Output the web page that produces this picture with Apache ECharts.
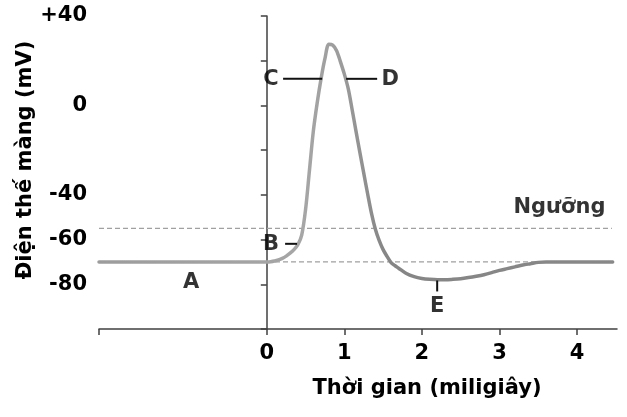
<!DOCTYPE html>
<html>
<head>
<meta charset="utf-8">
<script src="https://cdn.jsdelivr.net/npm/echarts@6/dist/echarts.min.js"></script>
<style>
html,body{margin:0;padding:0;background:#fff;}
#chart{width:627px;height:417px;}
</style>
</head>
<body>
<div id="chart"></div>
<script>
// ---- data ----
var timeMs = [-2.164, -1, 0, 0.05, 0.1, 0.15, 0.2, 0.25, 0.3, 0.35, 0.4, 0.45, 0.5, 0.55, 0.6, 0.65, 0.7, 0.75, 0.8, 0.85, 0.9, 0.95, 1.0, 1.05, 1.1, 1.15, 1.2, 1.25, 1.3, 1.35, 1.4, 1.45, 1.5, 1.55, 1.6, 1.65, 1.7, 1.8, 1.9, 2.0, 2.1, 2.2, 2.3, 2.4, 2.5, 2.6, 2.7, 2.8, 2.9, 3.0, 3.1, 3.2, 3.3, 3.4, 3.5, 3.6, 4.0, 4.46];
var potential = [-70, -70, -70, -69.9, -69.6, -69.1, -68.4, -67.4, -66.1, -64.5, -62.3, -58, -46.5, -29, -11.5, 1.2, 12, 21, 27.4, 27, 24.5, 19.5, 14, 7.5, -1.8, -11.5, -21, -30.3, -39.5, -48.3, -55.4, -60.5, -64.5, -67.5, -70.2, -71.6, -72.8, -75.2, -76.6, -77.4, -77.8, -78, -78, -77.8, -77.5, -77, -76.4, -75.7, -74.8, -73.8, -73, -72.2, -71.4, -70.8, -70.2, -70, -70, -70];
var thresholdLevel = -55;
var restingLevel = -70;
var dashEndTime = 4.45;
var xMin = -2.164, xMax = 4.516;
var yMin = -100, yMax = 40, yStep = 20;
var xTickLabels = [0, 1, 2, 3, 4];
var yTickLabels = [-80, -60, -40, 0, 40];
var yTickText = {'40': '+40', '0': '0', '-40': '-40', '-60': '-60', '-80': '-80'};
// annotation labels [time, mV, text]
var pointLabels = [
  [-0.977, -79.3, 'A'],
  [0.055, -62.2, 'B'],
  [0.055, 11.8, 'C'],
  [1.59, 11.8, 'D'],
  [2.197, -90, 'E'],
  [3.774, -45.5, 'Ngưỡng']
];
// annotation leader segments [[t1,v1],[t2,v2]]
var leaderSegments = [
  [[0.236, -61.9], [0.39, -61.9]],
  [[0.21, 11.9], [0.714, 11.9]],
  [[1.023, 11.9], [1.423, 11.9]],
  [[2.197, -78.3], [2.197, -83.2]]
];

var curveData = timeMs.map(function (t, i) { return [t, potential[i]]; });
var FONT = 'DejaVu Sans';

var series = [
  {
    type: 'line', silent: true, symbol: 'none',
    data: [[xMin, thresholdLevel], [dashEndTime, thresholdLevel]],
    lineStyle: { color: '#a0a0a0', width: 1.2, type: [5, 3] }, z: 1
  },
  {
    type: 'line', silent: true, symbol: 'none',
    data: [[xMin, restingLevel], [dashEndTime, restingLevel]],
    lineStyle: { color: '#a0a0a0', width: 1.2, type: [5, 3] }, z: 1
  },
  {
    type: 'line', silent: true, symbol: 'none',
    data: curveData, smooth: 0.3,
    lineStyle: {
      width: 3.5, cap: 'round', join: 'round',
      color: new echarts.graphic.LinearGradient(0, 0, 1, 0, [
        { offset: 0, color: '#9c9c9c' },
        { offset: 0.40, color: '#a6a6a6' },
        { offset: 0.47, color: '#9c9c9c' },
        { offset: 0.56, color: '#858585' },
        { offset: 1, color: '#888888' }
      ])
    }, z: 3
  }
];
leaderSegments.forEach(function (seg) {
  series.push({
    type: 'line', silent: true, symbol: 'none', data: seg,
    lineStyle: { color: '#111', width: 2 }, z: 4
  });
});
series.push({
  type: 'scatter', silent: true, symbolSize: 1,
  itemStyle: { color: 'rgba(0,0,0,0)' },
  data: pointLabels.map(function (p) { return { value: [p[0], p[1]], name: p[2] }; }),
  label: {
    show: true, position: 'inside', formatter: '{b}',
    fontFamily: FONT, fontWeight: 'bold', fontSize: 21, color: '#000',
    align: 'center', verticalAlign: 'middle'
  }, z: 5
});

var chart = echarts.init(document.getElementById('chart'), null, { renderer: 'canvas' });
chart.setOption({
  animation: false,
  backgroundColor: '#fff',
  grid: { left: 99, right: 10, top: 16, bottom: 88, containLabel: false },
  xAxis: {
    type: 'value', min: xMin, max: xMax,
    axisLine: { show: true, onZero: false, lineStyle: { color: '#404040', width: 1.5 } },
    axisTick: { show: true, inside: false, length: 6, lineStyle: { color: '#404040', width: 1.5 },
      customValues: [xMin].concat(xTickLabels) },
    axisLabel: { customValues: xTickLabels, margin: 14, fontFamily: FONT, fontWeight: 'bold', fontSize: 21, color: '#000' },
    splitLine: { show: false }
  },
  yAxis: {
    type: 'value', min: yMin, max: yMax, interval: yStep,
    axisLine: { show: true, lineStyle: { color: '#404040', width: 1.5 } },
    axisTick: { show: true, inside: false, length: 6, lineStyle: { color: '#404040', width: 1.5 } },
    axisLabel: {
      margin: 12, fontFamily: FONT, fontWeight: 'bold', fontSize: 21, color: '#000',
      formatter: function (v) {
        return yTickLabels.indexOf(v) >= 0 ? yTickText[String(v)] : '';
      }
    },
    splitLine: { show: false }
  },
  graphic: [
    {
      type: 'text', x: 427, y: 389,
      style: { text: 'Thời gian (miligiây)', font: 'bold 21px "DejaVu Sans"', fill: '#000', align: 'center', verticalAlign: 'middle' }
    },
    {
      type: 'text', x: 26, y: 160, rotation: Math.PI / 2,
      style: { text: 'Điện thế màng (mV)', font: 'bold 21px "DejaVu Sans"', fill: '#000', align: 'center', verticalAlign: 'middle' }
    }
  ],
  series: series
});
</script>
</body>
</html>
